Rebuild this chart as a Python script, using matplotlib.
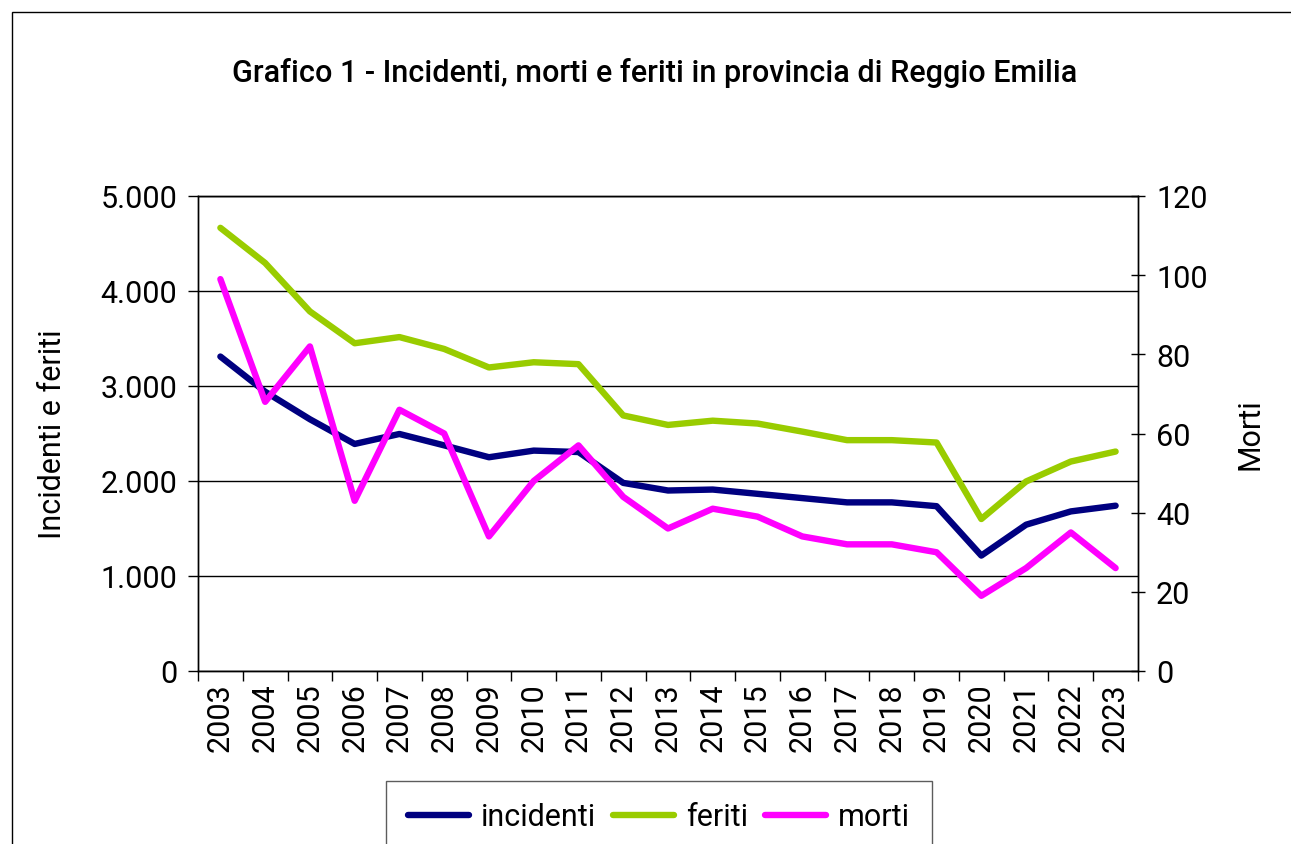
import matplotlib
matplotlib.use("Agg")
import matplotlib.pyplot as plt
from matplotlib.patches import Rectangle
from matplotlib.ticker import FuncFormatter, FixedLocator

plt.rcParams["font.family"] = ["Roboto", "DejaVu Sans"]

years = [str(y) for y in range(2003, 2024)]
incidenti = [3310, 2940, 2650, 2390, 2495, 2375, 2250, 2320, 2305,
             1980, 1900, 1910, 1865, 1820, 1775, 1775, 1735, 1215, 1540, 1680, 1740]
feriti = [4665, 4295, 3785, 3450, 3515, 3390, 3195, 3250, 3230,
          2690, 2590, 2635, 2605, 2520, 2430, 2430, 2405, 1600, 1995, 2205, 2310]
morti = [99, 68, 82, 43, 66, 60, 34, 48, 57,
         44, 36, 41, 39, 34, 32, 32, 30, 19, 26, 35, 26]

C_INC = "#000080"
C_FER = "#99CC00"
C_MOR = "#FF00FF"
LW = 4.6
FS = 22

fig = plt.figure(figsize=(12.91, 8.45), dpi=100)
ax = fig.add_axes([198 / 1291, 1 - 672 / 845, 940 / 1291, 475 / 845])
ax2 = ax.twinx()

x = list(range(len(years)))
l1, = ax.plot(x, incidenti, color=C_INC, lw=LW, solid_capstyle="round",
              solid_joinstyle="round", label="incidenti", zorder=3)
l2, = ax.plot(x, feriti, color=C_FER, lw=LW, solid_capstyle="round",
              solid_joinstyle="round", label="feriti", zorder=3)
l3, = ax2.plot(x, morti, color=C_MOR, lw=LW, solid_capstyle="round",
               solid_joinstyle="round", label="morti", zorder=3)
ax.set_zorder(ax2.get_zorder() - 1)
ax.patch.set_visible(True)
ax2.patch.set_visible(False)

ax.set_xlim(-0.5, len(years) - 0.5)
ax.set_ylim(0, 5000)
ax2.set_ylim(0, 120)
ax.set_yticks(range(0, 5001, 1000))
ax2.set_yticks(range(0, 121, 20))
ax.yaxis.set_major_formatter(FuncFormatter(lambda v, p: f"{int(v):,}".replace(",", ".")))

ax.grid(axis="y", color="black", lw=1.0)
ax.set_axisbelow(True)

ax.xaxis.set_major_locator(FixedLocator([i - 0.5 for i in range(len(years) + 1)]))
ax.xaxis.set_minor_locator(FixedLocator(x))
ax.set_xticklabels([], minor=False)
ax.set_xticklabels(years, minor=True, rotation=90, fontsize=FS)
ax.tick_params(axis="x", which="major", length=7, width=1, direction="out")
ax.tick_params(axis="x", which="minor", length=0, pad=8)
ax.tick_params(axis="y", length=7, width=1, direction="out", labelsize=FS, pad=8)
ax2.tick_params(axis="y", length=10, width=1, direction="inout", labelsize=FS, pad=8)

for a in (ax, ax2):
    for s in a.spines.values():
        s.set_color("black")
        s.set_linewidth(1.0)

ax.set_ylabel("Incidenti e feriti", fontsize=FS, labelpad=24)
ax2.set_ylabel("Morti", fontsize=FS, labelpad=20)

fig.text(655 / 1291, 1 - 73 / 845,
         "Grafico 1 - Incidenti, morti e feriti in provincia di Reggio Emilia",
         ha="center", va="center", fontsize=22, fontweight="medium")

leg = fig.legend(handles=[l1, l2, l3], loc="upper center",
                 bbox_to_anchor=(659 / 1291, 1 - 782 / 845), ncol=3,
                 fontsize=FS, frameon=True, fancybox=False, handlelength=2.0,
                 columnspacing=0.55, handletextpad=0.4, borderpad=0.7,
                 borderaxespad=0)
leg.get_frame().set_edgecolor("#333333")
leg.get_frame().set_linewidth(1.0)

fig.add_artist(Rectangle((12 / 1291, -0.1), 1.2, 1 - 13 / 845 + 0.1,
                         transform=fig.transFigure, fill=False,
                         edgecolor="black", lw=1.0))

fig.savefig("out.png", dpi=100)
